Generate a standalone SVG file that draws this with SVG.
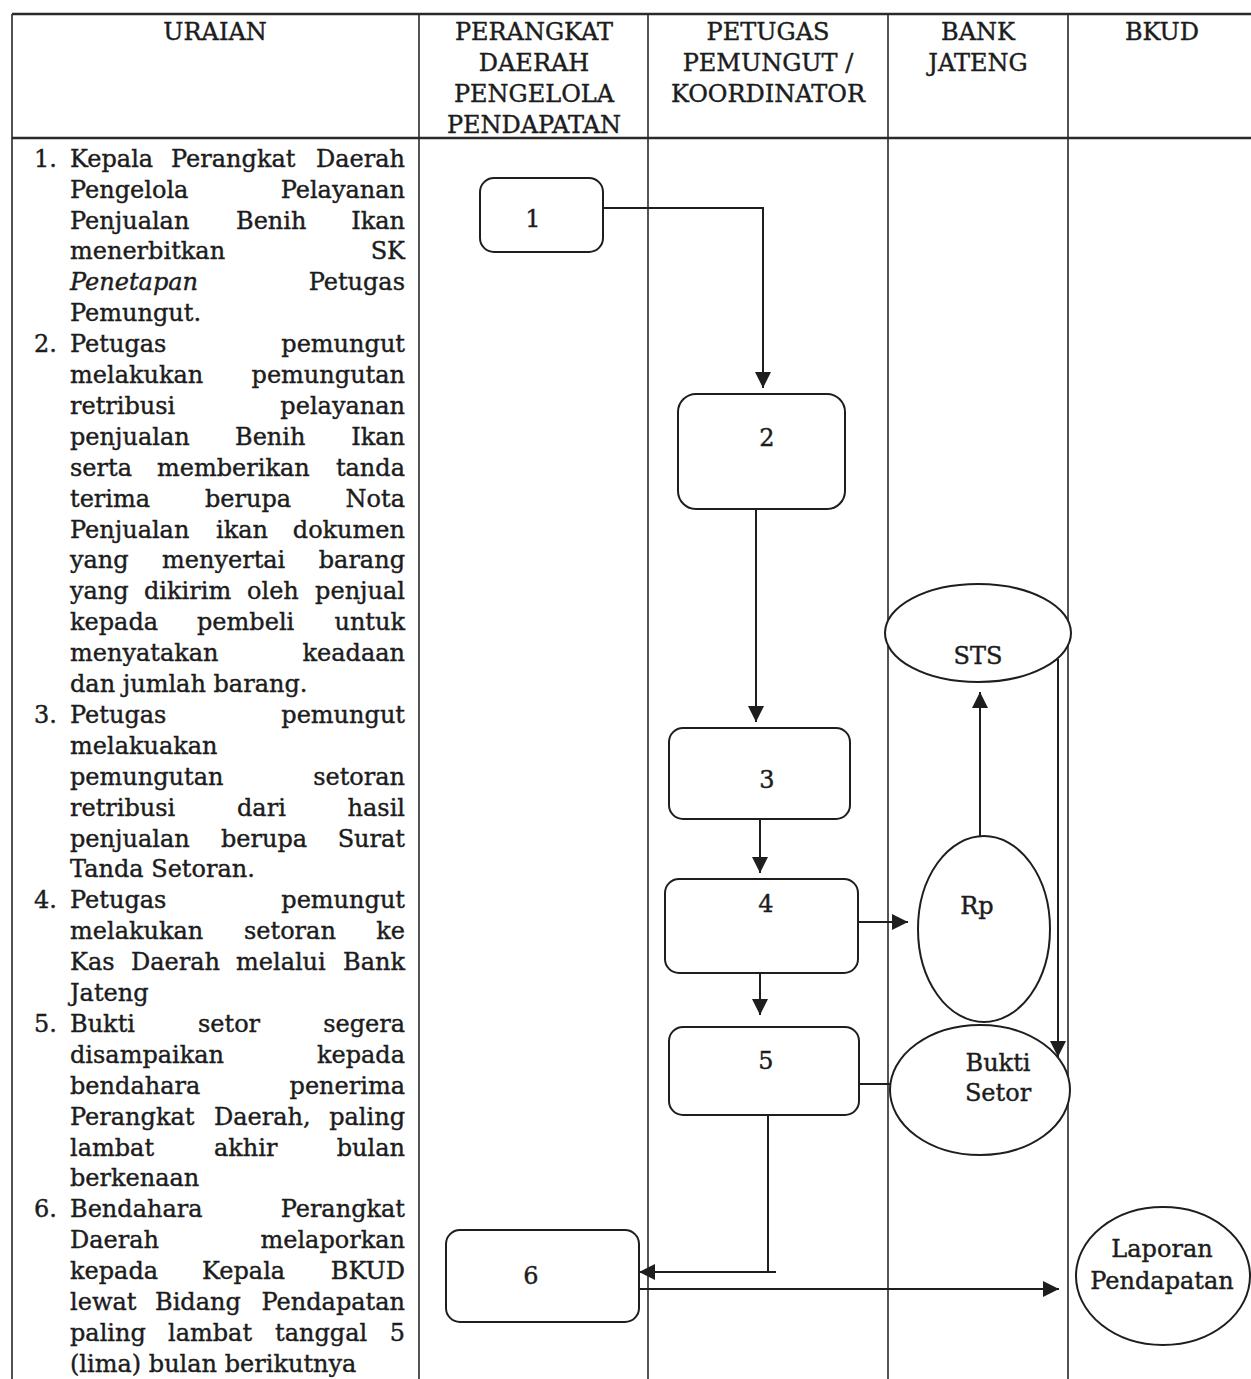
<svg xmlns="http://www.w3.org/2000/svg" width="1251" height="1379" viewBox="0 0 1251 1379">
<style>
text{font-family:"DejaVu Serif","Liberation Serif",serif;font-size:24px;fill:#1c1c1c;stroke:#1c1c1c;stroke-width:0.4}
.h{text-anchor:middle}
.e{text-anchor:end}
.c{text-anchor:middle}
.it{font-style:italic}
.grid{stroke:#2a2a2a;stroke-width:1.6;fill:none}
.thick{stroke:#2a2a2a;stroke-width:2.6;fill:none}
.node{fill:#fff;stroke:#1e1e1e;stroke-width:2}
.conn{stroke:#1e1e1e;stroke-width:2;fill:none}
</style>
<defs>
<marker id="arr" markerUnits="userSpaceOnUse" markerWidth="16" markerHeight="16" refX="16" refY="8" orient="auto">
<path d="M0,0 L16,8 L0,16 z" fill="#1e1e1e"/>
</marker>
</defs>
<rect width="1251" height="1379" fill="#fff"/>
<g id="table">
<path class="thick" d="M12,14 H1251 M12,138 H1251"/>
<path class="grid" d="M12,14 V1379 M419,14 V1379 M648,14 V1379 M888,14 V1379 M1068,14 V1379"/>
</g>
<g id="header">
<text class="h" x="215" y="40">URAIAN</text>
<text class="h" x="534" y="40">PERANGKAT</text>
<text class="h" x="534" y="71">DAERAH</text>
<text class="h" x="534" y="102">PENGELOLA</text>
<text class="h" x="534" y="133">PENDAPATAN</text>
<text class="h" x="768" y="40">PETUGAS</text>
<text class="h" x="768" y="71">PEMUNGUT /</text>
<text class="h" x="768" y="102">KOORDINATOR</text>
<text class="h" x="978" y="40">BANK</text>
<text class="h" x="978" y="71">JATENG</text>
<text class="h" x="1162" y="40">BKUD</text>
</g>
<g id="uraian">
<text class="e" x="57" y="166.7">1.</text>
<text x="70" y="166.7">Kepala<tspan x="171">Perangkat</tspan></text><text class="e" x="405" y="166.7">Daerah</text>
<text x="70" y="197.6">Pengelola</text><text class="e" x="405" y="197.6">Pelayanan</text>
<text x="70" y="228.5">Penjualan<tspan x="236">Benih</tspan></text><text class="e" x="405" y="228.5">Ikan</text>
<text x="70" y="259.4">menerbitkan</text><text class="e" x="405" y="259.4">SK</text>
<text class="it" x="70" y="290.3">Penetapan</text><text class="e" x="405" y="290.3">Petugas</text>
<text x="70" y="321.2">Pemungut.</text>
<text class="e" x="57" y="352.1">2.</text>
<text x="70" y="352.1">Petugas</text><text class="e" x="405" y="352.1">pemungut</text>
<text x="70" y="383">melakukan</text><text class="e" x="405" y="383">pemungutan</text>
<text x="70" y="413.9">retribusi</text><text class="e" x="405" y="413.9">pelayanan</text>
<text x="70" y="444.8">penjualan<tspan x="235">Benih</tspan></text><text class="e" x="405" y="444.8">Ikan</text>
<text x="70" y="475.7">serta<tspan x="157">memberikan</tspan></text><text class="e" x="405" y="475.7">tanda</text>
<text x="70" y="506.6">terima<tspan x="205">berupa</tspan></text><text class="e" x="405" y="506.6">Nota</text>
<text x="70" y="537.5">Penjualan<tspan x="216">ikan</tspan></text><text class="e" x="405" y="537.5">dokumen</text>
<text x="70" y="568.4">yang<tspan x="162">menyertai</tspan></text><text class="e" x="405" y="568.4">barang</text>
<text x="70" y="599.3">yang<tspan x="144">dikirim</tspan><tspan x="247">oleh</tspan></text><text class="e" x="405" y="599.3">penjual</text>
<text x="70" y="630.2">kepada<tspan x="197">pembeli</tspan></text><text class="e" x="405" y="630.2">untuk</text>
<text x="70" y="661.1">menyatakan</text><text class="e" x="405" y="661.1">keadaan</text>
<text x="70" y="692">dan jumlah barang.</text>
<text class="e" x="57" y="722.9">3.</text>
<text x="70" y="722.9">Petugas</text><text class="e" x="405" y="722.9">pemungut</text>
<text x="70" y="753.8">melakuakan</text>
<text x="70" y="784.7">pemungutan</text><text class="e" x="405" y="784.7">setoran</text>
<text x="70" y="815.6">retribusi<tspan x="237">dari</tspan></text><text class="e" x="405" y="815.6">hasil</text>
<text x="70" y="846.5">penjualan<tspan x="221">berupa</tspan></text><text class="e" x="405" y="846.5">Surat</text>
<text x="70" y="877.4">Tanda Setoran.</text>
<text class="e" x="57" y="908.3">4.</text>
<text x="70" y="908.3">Petugas</text><text class="e" x="405" y="908.3">pemungut</text>
<text x="70" y="939.2">melakukan<tspan x="244">setoran</tspan></text><text class="e" x="405" y="939.2">ke</text>
<text x="70" y="970.1">Kas<tspan x="131">Daerah</tspan><tspan x="236">melalui</tspan></text><text class="e" x="405" y="970.1">Bank</text>
<text x="70" y="1001">Jateng</text>
<text class="e" x="57" y="1031.9">5.</text>
<text x="70" y="1031.9">Bukti<tspan x="198">setor</tspan></text><text class="e" x="405" y="1031.9">segera</text>
<text x="70" y="1062.8">disampaikan</text><text class="e" x="405" y="1062.8">kepada</text>
<text x="70" y="1093.7">bendahara</text><text class="e" x="405" y="1093.7">penerima</text>
<text x="70" y="1124.6">Perangkat<tspan x="214">Daerah,</tspan></text><text class="e" x="405" y="1124.6">paling</text>
<text x="70" y="1155.5">lambat<tspan x="214">akhir</tspan></text><text class="e" x="405" y="1155.5">bulan</text>
<text x="70" y="1186.4">berkenaan</text>
<text class="e" x="57" y="1217.3">6.</text>
<text x="70" y="1217.3">Bendahara</text><text class="e" x="405" y="1217.3">Perangkat</text>
<text x="70" y="1248.2">Daerah</text><text class="e" x="405" y="1248.2">melaporkan</text>
<text x="70" y="1279.1">kepada<tspan x="202">Kepala</tspan></text><text class="e" x="405" y="1279.1">BKUD</text>
<text x="70" y="1310">lewat<tspan x="155">Bidang</tspan></text><text class="e" x="405" y="1310">Pendapatan</text>
<text x="70" y="1340.9">paling<tspan x="168">lambat</tspan><tspan x="275">tanggal</tspan></text><text class="e" x="405" y="1340.9">5</text>
<text x="70" y="1371.8">(lima) bulan berikutnya</text>
</g>
<g id="connectors">
<path class="conn" d="M603,208 H763 V388" marker-end="url(#arr)"/>
<path class="conn" d="M756,509 V722" marker-end="url(#arr)"/>
<path class="conn" d="M760,819 V873" marker-end="url(#arr)"/>
<path class="conn" d="M760,973 V1015" marker-end="url(#arr)"/>
<path class="conn" d="M858,922 H908" marker-end="url(#arr)"/>
<path class="conn" d="M980,836 V692" marker-end="url(#arr)"/>
<path class="conn" d="M1058,659 V1057" marker-end="url(#arr)"/>
<path class="conn" d="M859,1084 H890"/>
<path class="conn" d="M768,1115 V1272"/>
<path class="conn" d="M776,1272 H639" marker-end="url(#arr)"/>
<path class="conn" d="M639,1289 H1059" marker-end="url(#arr)"/>
</g>
<g id="node-1"><rect class="node" x="480" y="178" width="123" height="74" rx="14"/><text class="c" x="533" y="227">1</text></g>
<g id="node-2"><rect class="node" x="678" y="394" width="167" height="115" rx="18"/><text class="c" x="767" y="446">2</text></g>
<g id="node-3"><rect class="node" x="669" y="728" width="181" height="91" rx="14"/><text class="c" x="767" y="788">3</text></g>
<g id="node-4"><rect class="node" x="665" y="879" width="193" height="94" rx="14"/><text class="c" x="766" y="912">4</text></g>
<g id="node-5"><rect class="node" x="669" y="1027" width="190" height="88" rx="14"/><text class="c" x="766" y="1069">5</text></g>
<g id="node-6"><rect class="node" x="446" y="1230" width="193" height="92" rx="14"/><text class="c" x="531" y="1284">6</text></g>
<g id="node-sts"><ellipse class="node" cx="978" cy="633" rx="93" ry="49"/><text class="c" x="978" y="664">STS</text></g>
<g id="node-rp"><ellipse class="node" cx="984" cy="929" rx="66" ry="93"/><text class="c" x="977" y="914">Rp</text></g>
<g id="node-bukti"><ellipse class="node" cx="980" cy="1090" rx="90" ry="65"/><text class="c" x="998" y="1071">Bukti</text><text class="c" x="998" y="1101">Setor</text></g>
<g id="node-laporan"><ellipse class="node" cx="1163" cy="1276" rx="87" ry="69"/><text class="c" x="1162" y="1257">Laporan</text><text class="c" x="1162" y="1289">Pendapatan</text></g>
</svg>
